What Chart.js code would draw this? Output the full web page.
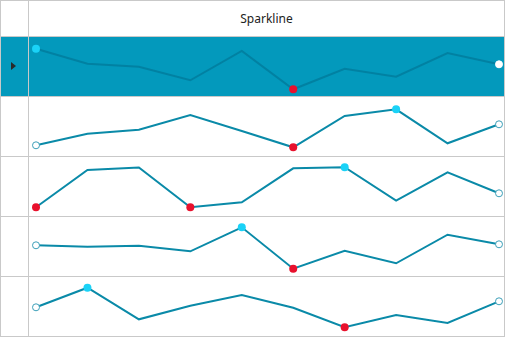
<!DOCTYPE html>
<html><head><meta charset="utf-8">
<script src="https://cdn.jsdelivr.net/npm/chart.js@4/dist/chart.umd.min.js"></script>
<style>
html,body{margin:0;padding:0;background:#fff;}
#frame{position:absolute;left:0;top:0;width:506px;height:338px;overflow:hidden;font-family:"Noto Sans",sans-serif;}
.h{position:absolute;left:0;width:505px;height:1px;background:#c9c9c9;}
.v{position:absolute;top:0;width:1px;height:337px;background:#c9c9c9;}
#sel{position:absolute;left:0;top:37px;width:504px;height:59px;background:#0399bc;}
#hdr{position:absolute;left:29px;top:0;width:475px;height:36px;line-height:37px;text-align:center;font-size:12px;color:#222;}
#arrow{position:absolute;left:11px;top:62px;width:0;height:0;border-top:4px solid transparent;border-bottom:4px solid transparent;border-left:5px solid #2a2a2a;}
canvas{position:absolute;}
</style></head>
<body><div id="frame">
<div id="sel"></div>
<div class="h" style="top:0"></div>
<div class="h" style="top:36px"></div>
<div class="h" style="top:96px"></div>
<div class="h" style="top:156px"></div>
<div class="h" style="top:216px"></div>
<div class="h" style="top:276px"></div>
<div class="h" style="top:336px"></div>
<div class="v" style="left:0"></div>
<div class="v" style="left:28px"></div>
<div class="v" style="left:504px"></div>
<div id="hdr">Sparkline</div>
<div id="arrow"></div>
</div>
<script>
const categories = ["1","2","3","4","5","6","7","8","9","10"];
const row1 = [39.3, 24.3, 21.3, 7.7, 37.0, -1.3, 19.3, 11.3, 35.0, 23.7];
const row2 = [2.7, 14.3, 18.3, 33.0, 17.0, 0.7, 32.0, 38.7, 4.7, 23.7];
const row3 = [0.7, 38.0, 40.5, 0.7, 5.7, 39.7, 40.8, 7.3, 35.7, 14.7];
const row4 = [22.7, 21.3, 22.3, 16.7, 40.7, -0.7, 17.3, 4.7, 33.3, 23.7];
const row5 = [20.7, 40.3, 8.7, 22.3, 33.0, 20.3, 0.7, 13.0, 5.0, 26.7];
const rows = [row1, row2, row3, row4, row5];
const rowTops = [36, 96, 156, 216, 276];

const LINE = '#0a8aa8', SEL_LINE = 'rgba(0,110,140,0.55)', HIGH = '#1ad2f7', LOW = '#e8112d';

rows.forEach((data, r) => {
  const selected = r === 0;
  const cv = document.createElement('canvas');
  cv.width = 475; cv.height = 59;
  cv.style.left = '29px'; cv.style.top = (rowTops[r] + 1) + 'px';
  cv.style.width = '475px'; cv.style.height = '59px';
  document.getElementById('frame').appendChild(cv);
  const mx = Math.max(...data), mn = Math.min(...data);
  const last = data.length - 1;
  const radius = [], fill = [], border = [], bw = [];
  data.forEach((v, i) => {
    if (v === mx) { radius.push(4); fill.push(HIGH); border.push(HIGH); bw.push(0); }
    else if (v === mn) { radius.push(4); fill.push(LOW); border.push(LOW); bw.push(0); }
    else if (i === 0 || i === last) {
      radius.push(selected ? 3.5 : 3.5);
      fill.push('#ffffff');
      border.push(selected ? '#ffffff' : '#3c9fb8');
      bw.push(1);
    } else { radius.push(0); fill.push(LINE); border.push(LINE); bw.push(0); }
  });
  new Chart(cv, {
    type: 'line',
    data: { labels: categories, datasets: [{
      data, borderColor: selected ? SEL_LINE : LINE, borderWidth: 2, tension: 0,
      pointRadius: radius, pointBackgroundColor: fill, pointBorderColor: border,
      pointBorderWidth: bw, clip: false, fill: false
    }]},
    options: {
      responsive: false, animation: false, devicePixelRatio: 1,
      layout: { padding: { left: 7, right: 5, top: 11, bottom: 8 } },
      plugins: { legend: { display: false }, tooltip: { enabled: false } },
      scales: {
        x: { type: 'category', display: false, offset: false },
        y: { type: 'linear', display: false, min: 0, max: 40 }
      }
    }
  });
});
</script>
</body></html>
